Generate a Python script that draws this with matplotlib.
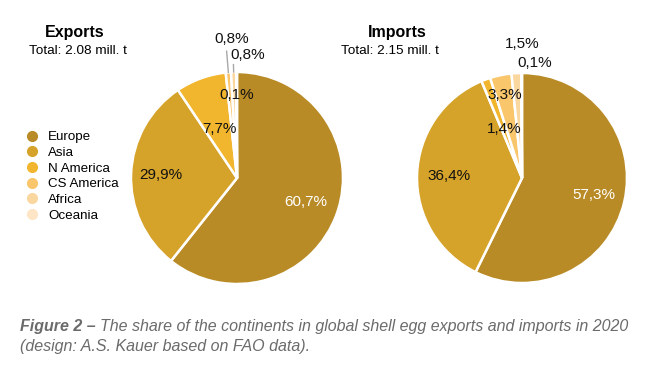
import matplotlib
matplotlib.use("Agg")
import matplotlib.pyplot as plt
import numpy as np
from matplotlib.lines import Line2D

plt.rcParams['font.family'] = ['Liberation Sans', 'DejaVu Sans']

# ---------------- data ----------------
regions = ["Europe", "Asia", "N America", "CS America", "Africa", "Oceania"]
exports_share = [60.7, 29.9, 7.7, 0.8, 0.8, 0.1]
imports_share = [57.3, 36.4, 1.4, 3.3, 1.5, 0.1]
exports_title = "Exports"
exports_total = "Total: 2.08 mill. t"
imports_title = "Imports"
imports_total = "Total: 2.15 mill. t"
caption_bold = "Figure 2 \u2013 "
caption_line1 = "The share of the continents in global shell egg exports and imports in 2020"
caption_line2 = "(design: A.S. Kauer based on FAO data)."

# ---------------- style ----------------
colors = ["#B98B26", "#D6A32A", "#F2B52E", "#F9C66B", "#FBD7A0", "#FDE5C6"]
W, H = 646, 372
fig = plt.figure(figsize=(W / 100, H / 100), dpi=100)

def fmt(v):
    return f"{v:.1f}".replace(".", ",") + "%"

def make_pie(cx, cy, r, values, label_r, label_dx, text_colors, leaders):
    ax = fig.add_axes([(cx - r) / W, (H - cy - r) / H, 2 * r / W, 2 * r / H])
    wedges, _ = ax.pie(values, colors=colors, startangle=90, counterclock=False,
                       radius=1.0, wedgeprops=dict(edgecolor="white", linewidth=1.8))
    ax.set_xlim(-1, 1)
    ax.set_ylim(-1, 1)
    ax.set_aspect("auto")
    ax.axis("off")
    for w, v, lr, ldx, tc, ld in zip(wedges, values, label_r, label_dx, text_colors, leaders):
        mid = np.deg2rad((w.theta1 + w.theta2) / 2)
        x = lr * np.cos(mid) + ldx
        y = lr * np.sin(mid)
        ax.text(x, y, fmt(v), ha="center", va="center", fontsize=11, color=tc, clip_on=False)
        if ld:
            ax.add_line(Line2D([np.cos(mid), ld * np.cos(mid)],
                               [np.sin(mid), ld * np.sin(mid)],
                               color="#a8a8a8", lw=1.0, clip_on=False))
    return ax

make_pie(237, 178, 106, exports_share,
         label_r=[0.69, 0.72, 0.49, 1.32, 1.16, 0.78],
         label_dx=[0, 0, 0, 0.06, 0.14, 0.0],
         text_colors=["white", "#111111", "#111111", "#111111", "#111111", "#111111"],
         leaders=[0, 0, 0, 1.2, 1.07, 0])

make_pie(522, 178, 105, imports_share,
         label_r=[0.70, 0.70, 0.50, 0.81, 1.28, 1.10],
         label_dx=[0, 0, 0, 0, 0.07, 0.12],
         text_colors=["white", "#111111", "#111111", "#111111", "#111111", "#111111"],
         leaders=[0, 0, 0, 0, 0, 0])

# titles
fig.text(75 / W, 1 - 33 / H, exports_title, ha="center", va="center", fontsize=11.5, fontweight="bold")
fig.text(78 / W, 1 - 51 / H, exports_total, ha="center", va="center", fontsize=9.7)
fig.text(397 / W, 1 - 33 / H, imports_title, ha="center", va="center", fontsize=11.5, fontweight="bold")
fig.text(390 / W, 1 - 51 / H, imports_total, ha="center", va="center", fontsize=9.7)

# legend
handles = [Line2D([], [], marker="o", linestyle="none", markersize=7, markerfacecolor=c,
                  markeredgecolor=c) for c in colors]
fig.legend(handles, regions, loc="upper left", bbox_to_anchor=(25 / W, 1 - 131 / H),
           frameon=False, fontsize=9.6, handlelength=1.0, handletextpad=0.75,
           labelspacing=0.25, borderpad=0, borderaxespad=0)

# caption
cap_color = "#6b6b6b"
t1 = fig.text(20 / W, 1 - 326 / H, caption_bold, ha="left", va="center", fontsize=11.5,
              style="italic", fontweight="bold", color=cap_color)
fig.canvas.draw()
bb = t1.get_window_extent()
fig.text(bb.x1 / W, 1 - 326 / H, caption_line1, ha="left", va="center", fontsize=11.5,
         style="italic", color=cap_color)
fig.text(20 / W, 1 - 346 / H, caption_line2, ha="left", va="center", fontsize=11.5,
         style="italic", color=cap_color)

fig.savefig("out.png", dpi=100, facecolor="white")
